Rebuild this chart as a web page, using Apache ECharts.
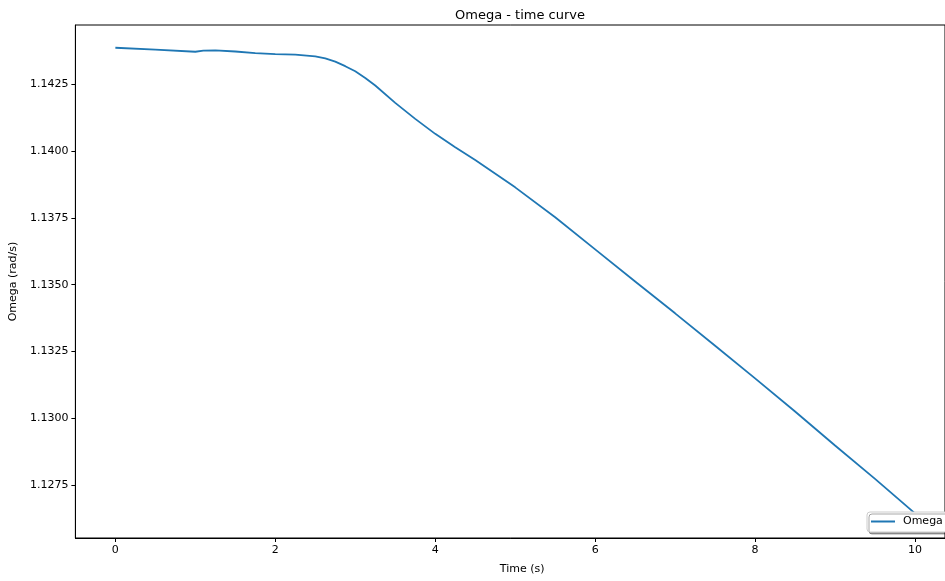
<!DOCTYPE html>
<html>
<head>
<meta charset="utf-8">
<script src="https://cdn.jsdelivr.net/npm/echarts@6/dist/echarts.min.js"></script>
<style>html,body{margin:0;padding:0;background:#fff}#c{width:945px;height:581px}</style>
</head>
<body>
<div id="c"></div>
<script>
const timeValues = [0, 0.5, 1.0, 1.1, 1.25, 1.5, 1.75, 2.0, 2.25, 2.5, 2.625, 2.75, 2.875, 3.0, 3.125, 3.25, 3.5, 3.75, 4.0, 4.25, 4.5, 5.0, 5.5, 6.0, 6.5, 7.0, 7.5, 8.0, 8.5, 9.0, 9.5, 10.0];
const omegaValues = [1.14386, 1.14379, 1.14371, 1.14375, 1.14376, 1.14372, 1.14366, 1.14362, 1.14360, 1.14354, 1.14346, 1.14334, 1.14317, 1.14298, 1.14273, 1.14245, 1.14180, 1.14120, 1.14064, 1.14014, 1.13966, 1.13864, 1.13752, 1.13632, 1.13512, 1.13393, 1.13272, 1.13150, 1.13026, 1.12899, 1.12774, 1.12645];
const xTicks = [0, 2, 4, 6, 8, 10];
const yTicks = [1.1275, 1.1300, 1.1325, 1.1350, 1.1375, 1.1400, 1.1425];
const seriesName = 'Omega';

const font = 'DejaVu Sans';
const chart = echarts.init(document.getElementById('c'), null, {renderer: 'canvas'});
chart.setOption({
  animation: false,
  backgroundColor: '#fff',
  title: {
    text: 'Omega - time curve',
    left: 515, top: 4, textAlign: 'center',
    textStyle: {fontFamily: font, fontSize: 13, fontWeight: 'normal', color: '#000'}
  },
  grid: {left: 75, right: 0, top: 25, bottom: 43, show: true, borderColor: '#000', borderWidth: 1, backgroundColor: 'transparent'},
  legend: {
    data: [{name: seriesName, icon: 'rect'}],
    left: 867, top: 512,
    itemWidth: 24, itemHeight: 2, itemGap: 8,
    padding: [4, 8, 5, 4],
    backgroundColor: '#fff', borderColor: '#ccc', borderWidth: 1, borderRadius: 3,
    shadowColor: 'rgba(0,0,0,0.35)', shadowOffsetX: 2, shadowOffsetY: 2, shadowBlur: 0,
    textStyle: {fontFamily: font, fontSize: 11, color: '#000', padding: [0, 0, 0, 3]}
  },
  xAxis: {
    type: 'value', min: -0.5, max: 10.375,
    name: 'Time (s)', nameLocation: 'middle', nameGap: 26,
    nameTextStyle: {fontFamily: font, fontSize: 11, color: '#000', padding: [0, 0, 0, 24]},
    axisLine: {show: true, onZero: false, lineStyle: {color: '#000', width: 1}},
    axisTick: {show: true, length: 4, customValues: xTicks, lineStyle: {color: '#000'}},
    axisLabel: {customValues: xTicks, fontFamily: font, fontSize: 11, color: '#000', margin: 7, formatter: v => String(v)},
    splitLine: {show: false}
  },
  yAxis: {
    type: 'value', min: 1.12553, max: 1.14471,
    name: 'Omega (rad/s)', nameLocation: 'middle', nameGap: 55,
    nameTextStyle: {fontFamily: font, fontSize: 11, color: '#000'},
    axisLine: {show: true, onZero: false, lineStyle: {color: '#000', width: 1}},
    axisTick: {show: true, length: 4, customValues: yTicks, lineStyle: {color: '#000'}},
    axisLabel: {customValues: yTicks, fontFamily: font, fontSize: 11, color: '#000', margin: 7, formatter: v => v.toFixed(4)},
    splitLine: {show: false}
  },
  series: [{
    name: seriesName,
    type: 'line',
    data: timeValues.map((t, i) => [t, omegaValues[i]]),
    showSymbol: false, symbol: 'none',
    smooth: false,
    lineStyle: {color: '#1f77b4', width: 1.8},
    itemStyle: {color: '#1f77b4'}
  }]
});
</script>
</body>
</html>
